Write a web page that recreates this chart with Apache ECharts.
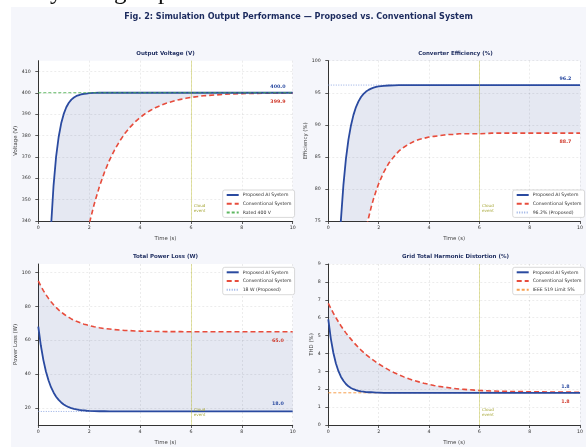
<!DOCTYPE html>
<html><head><meta charset="utf-8">
<script src="https://cdn.jsdelivr.net/npm/echarts@6/dist/echarts.min.js"></script>
<style>html,body{margin:0;padding:0;background:#fff;}#c{width:586px;height:447px;}</style>
</head><body><div id="c"></div>
<script>
// ---------------- DATA ----------------
const timeS = [0,0.1,0.2,0.3,0.4,0.5,0.6,0.7,0.8,0.9,1.0,1.1,1.2,1.3,1.4,1.5,1.6,1.7,1.8,1.9,2.0,
  2.2,2.4,2.6,2.8,3.0,3.2,3.4,3.6,3.8,4.0,4.2,4.4,4.6,4.8,5.0,5.2,5.4,5.6,5.8,6.0,
  6.5,7.0,7.5,8.0,8.5,9.0,9.5,10.0];

const voltageProposed = [0,124,209,268,309,337.2,356.7,370.1,379.3,385.7,390.1,393.2,395.3,396.8,397.8,398.5,398.9,399.3,399.5,399.6,399.8,
  399.9,400,400,400,400,400,400,400,400,400,400,400,400,400,400,400,400,400,400,400,
  400,400,400,400,400,400,400,400];
const voltageConventional = [75,101,125,147,167,186,203,219,233,246.5,259,270,280.4,290,298.8,307,314.3,321.2,327.5,333.3,338.6,
  348.0,356.0,362.8,368.5,373.3,377.4,380.9,383.8,386.3,388.4,390.2,391.7,393.0,394.0,395.0,395.7,396.4,396.9,397.4,397.8,
  398.6,399.0,399.4,399.6,399.7,399.8,399.9,399.9];

const efficiencyProposed = [0,25.1,43.7,57.4,67.6,75.1,80.6,84.7,87.7,89.9,91.55,92.77,93.66,94.33,94.82,95.18,95.45,95.64,95.79,95.90,95.98,
  96.08,96.13,96.16,96.18,96.19,96.2,96.2,96.2,96.2,96.2,96.2,96.2,96.2,96.2,96.2,96.2,96.2,96.2,96.2,96.2,
  96.2,96.2,96.2,96.2,96.2,96.2,96.2,96.2];
const efficiencyConventional = [0,0,9.3,18.9,27.3,34.7,41.2,46.9,51.9,56.3,60.2,63.7,66.7,69.3,71.7,73.7,75.5,77.1,78.5,79.7,80.8,
  82.6,84.0,85.0,85.9,86.5,87.0,87.4,87.7,87.9,88.1,88.2,88.3,88.4,88.5,88.5,88.6,88.6,88.6,88.6,88.6,
  88.7,88.7,88.7,88.7,88.7,88.7,88.7,88.7];

const lossProposed = [68,56.9,48.3,41.6,36.4,32.3,29.2,26.7,24.8,23.3,22.1,21.2,20.5,19.9,19.5,19.2,18.9,18.7,18.6,18.4,18.3,
  18.2,18.1,18.1,18.0,18.0,18.0,18.0,18.0,18.0,18.0,18.0,18.0,18.0,18.0,18.0,18.0,18.0,18.0,18.0,18.0,
  18.0,18.0,18.0,18.0,18.0,18.0,18.0,18.0];
const lossConventional = [95,92.0,89.3,86.9,84.7,82.7,81.0,79.4,77.9,76.6,75.5,74.4,73.5,72.6,71.9,71.2,70.6,70.0,69.5,69.1,68.7,
  68.0,67.4,66.9,66.6,66.3,66.0,65.8,65.7,65.5,65.4,65.3,65.3,65.2,65.2,65.1,65.1,65.1,65.1,65.0,65.0,
  65.0,65.0,65.0,65.0,65.0,65.0,65.0,65.0];

const thdProposed = [5.9,4.83,4.04,3.45,3.02,2.70,2.47,2.29,2.16,2.07,2.00,1.95,1.91,1.88,1.86,1.84,1.83,1.83,1.82,1.81,1.81,
  1.80,1.80,1.80,1.80,1.80,1.80,1.80,1.80,1.80,1.80,1.80,1.80,1.80,1.80,1.80,1.80,1.80,1.80,1.80,1.80,
  1.80,1.80,1.80,1.80,1.80,1.80,1.80,1.80];
const thdConventional = [6.8,6.52,6.25,6.00,5.77,5.55,5.34,5.15,4.97,4.80,4.63,4.48,4.33,4.19,4.06,3.94,3.82,3.71,3.61,3.51,3.42,
  3.24,3.08,2.94,2.81,2.69,2.58,2.49,2.41,2.33,2.27,2.21,2.16,2.12,2.08,2.04,2.01,1.99,1.97,1.95,1.93,
  1.90,1.88,1.87,1.86,1.85,1.84,1.84,1.83];

const xTicks = [0,2,4,6,8,10];
const voltageTicks = [340,350,360,370,380,390,400,410];
const efficiencyTicks = [75,80,85,90,95,100];
const lossTicks = [20,40,60,80,100];
const thdTicks = [0,1,2,3,4,5,6,7,8,9];

const figureTitle = 'Fig. 2: Simulation Output Performance — Proposed vs. Conventional System';
const panelTitles = ['Output Voltage (V)','Converter Efficiency (%)','Total Power Loss (W)','Grid Total Harmonic Distortion (%)'];
const yAxisNames = ['Voltage (V)','Efficiency (%)','Power Loss (W)','THD (%)'];
const xAxisName = 'Time (s)';
const proposedName = 'Proposed AI System';
const conventionalName = 'Conventional System';
const referenceNames = ['Rated 400 V','96.2% (Proposed)','18 W (Proposed)','IEEE 519 Limit 5%'];
const referenceValues = [400,96.2,18,1.8];
const cloudEventTime = 6;
const cloudEventText = 'Cloud\nevent';
// fragments of the page caption line cut off above the figure (only descenders visible)
const captionFragments = ['y','g','p'];

// ---------------- STYLE / LAYOUT ----------------
const FONT = 'DejaVu Sans';
const NAVY = '#1c2b5e';
const BLUE = '#2a4aa0';
const RED = '#e74c3c';
const captionX = [50, 114, 158];
const panels = [
  {grid:{left:38.3,top:60.7,width:254.4,height:160.3}, yMin:340, yMax:415, ticks:voltageTicks,
   prop:voltageProposed, conv:voltageConventional,
   ref:{color:'rgba(76,175,80,0.9)', type:[3,2], width:1, z:6},
   legend:{left:222.7, top:190}, yNameGap:18.9, xNameGap:15.3, titleY:53.3, offP:-6.5, offC:8.7},
  {grid:{left:328.3,top:60.7,width:254.4,height:160.3}, yMin:75, yMax:100, ticks:efficiencyTicks,
   prop:efficiencyProposed, conv:efficiencyConventional,
   ref:{color:'rgba(120,150,220,0.8)', type:[1,1.5], width:1, z:2},
   legend:{left:512.7, top:190}, yNameGap:17.3, xNameGap:15.3, titleY:53.3, offP:-6.8, offC:8.3},
  {grid:{left:38.3,top:264,width:254.4,height:161}, yMin:10, yMax:105, ticks:lossTicks,
   prop:lossProposed, conv:lossConventional,
   ref:{color:'rgba(120,150,220,0.8)', type:[1,1.5], width:1, z:2},
   legend:{left:222.7, top:267.3}, yNameGap:17.6, xNameGap:14.6, titleY:256.7, offP:-7.9, offC:8.7},
  {grid:{left:328.3,top:264,width:254.4,height:161}, yMin:0, yMax:9, ticks:thdTicks,
   prop:thdProposed, conv:thdConventional,
   ref:{color:'rgba(245,150,60,0.9)', type:[3,2], width:1, z:2},
   legend:{left:512.7, top:267.3}, yNameGap:10.6, xNameGap:14.6, titleY:256.7, offP:-6.1, offC:9.9}
];

const pair = ys => timeS.map((t,k)=>[t, ys[k]]);
const gridLine = {show:true, lineStyle:{color:'rgba(0,0,0,0.11)', type:[2,2], width:0.7}};
const axisLineStyle = {show:true, onZero:false, lineStyle:{color:'#333', width:1}};

const grids = [], xAxes = [], yAxes = [], series = [], legends = [];
const graphics = [
  {type:'rect', shape:{x:11,y:7,width:575,height:440}, style:{fill:'#f5f6fb'}, z:-10, silent:true},
  {type:'text', x:298.5, y:16.7, style:{text:figureTitle, fill:NAVY, font:'bold 8.1px "'+FONT+'"', textAlign:'center', textVerticalAlign:'middle'}}
];
captionFragments.forEach((ch,k)=>{
  graphics.push({type:'text', x:captionX[k], y:-8, silent:true,
    style:{text:ch, fill:'#111', font:'25px "Liberation Serif"', textAlign:'left', textVerticalAlign:'middle'}});
});

panels.forEach((p,i)=>{
  grids.push(Object.assign({show:true, backgroundColor:'#fff', borderWidth:0}, p.grid));
  xAxes.push({type:'value', gridIndex:i, min:0, max:10, interval:2,
    name:xAxisName, nameLocation:'middle', nameGap:p.xNameGap,
    nameTextStyle:{fontFamily:FONT, fontSize:5.4, color:'#444'},
    axisLine:axisLineStyle, axisTick:{show:true, length:3, lineStyle:{color:'#333', width:0.8}},
    axisLabel:{fontFamily:FONT, fontSize:4.7, color:'#333', margin:4},
    splitLine:gridLine});
  yAxes.push({type:'value', gridIndex:i, min:p.yMin, max:p.yMax,
    name:yAxisNames[i], nameLocation:'middle', nameGap:p.yNameGap,
    nameTextStyle:{fontFamily:FONT, fontSize:5.4, color:'#444'},
    axisLine:axisLineStyle,
    axisTick:{show:true, length:3, lineStyle:{color:'#333', width:0.8}, customValues:p.ticks},
    axisLabel:{fontFamily:FONT, fontSize:4.7, color:'#333', margin:7.5, customValues:p.ticks},
    splitLine:gridLine});
  graphics.push({type:'text', x:p.grid.left+p.grid.width/2, y:p.titleY,
    style:{text:panelTitles[i], fill:NAVY, font:'bold 5.5px "'+FONT+'"', textAlign:'center', textVerticalAlign:'middle'}});

  const clampY = v => Math.max(p.yMin, Math.min(p.yMax, v));
  // band between the two curves (fill_between)
  series.push({type:'custom', name:'_band'+i, xAxisIndex:i, yAxisIndex:i, coordinateSystem:'cartesian2d',
    data:[[0,p.yMin]], silent:true, z:1, clip:true,
    renderItem:(params, api)=>{
      const pts = [];
      for (let k=0;k<timeS.length;k++) pts.push(api.coord([timeS[k], clampY(Math.max(p.prop[k],p.conv[k]))]));
      for (let k=timeS.length-1;k>=0;k--) pts.push(api.coord([timeS[k], clampY(Math.min(p.prop[k],p.conv[k]))]));
      return {type:'polygon', shape:{points:pts}, style:{fill:'rgba(45,65,150,0.12)'}};
    }});
  // cloud event marker
  const cloudY = p.yMin + 0.08*(p.yMax - p.yMin);
  series.push({type:'line', name:'_cloud'+i, xAxisIndex:i, yAxisIndex:i, data:[[cloudEventTime, p.yMin]],
    symbol:'none', lineStyle:{opacity:0}, silent:true, z:1,
    markLine:{silent:true, symbol:['none','none'], label:{show:false},
      lineStyle:{color:'rgba(188,189,34,0.45)', type:'solid', width:0.9}, data:[{xAxis:cloudEventTime}]},
    markPoint:{silent:true, symbol:'circle', symbolSize:1, itemStyle:{color:'rgba(0,0,0,0)'},
      data:[{coord:[cloudEventTime+0.11, cloudY], label:{show:true, formatter:cloudEventText, position:'inside', align:'left', verticalAlign:'middle',
        fontFamily:FONT, fontSize:4.1, lineHeight:5, color:'#a8a83a'}}]}
  });
  series.push({type:'line', name:referenceNames[i], xAxisIndex:i, yAxisIndex:i,
    data:[[0,referenceValues[i]],[10,referenceValues[i]]], symbol:'none', silent:true,
    lineStyle:{color:p.ref.color, type:p.ref.type, width:p.ref.width}, itemStyle:{color:p.ref.color}, z:p.ref.z});
  const lastC = p.conv[p.conv.length-1], lastP = p.prop[p.prop.length-1];
  series.push({type:'line', name:conventionalName, xAxisIndex:i, yAxisIndex:i, data:pair(p.conv),
    symbol:'none', lineStyle:{color:RED, type:[5,3], width:1.6}, itemStyle:{color:RED}, z:3,
    markPoint:{silent:true, symbol:'circle', symbolSize:1, itemStyle:{color:'rgba(0,0,0,0)'},
      data:[{coord:[9.42,lastC], label:{show:true, formatter:lastC.toFixed(1), position:'inside', offset:[0,p.offC],
        fontFamily:FONT, fontSize:4.8, fontWeight:'bold', color:'#d03a2c'}}]}});
  series.push({type:'line', name:proposedName, xAxisIndex:i, yAxisIndex:i, data:pair(p.prop),
    symbol:'none', lineStyle:{color:BLUE, width:1.8}, itemStyle:{color:BLUE}, z:4,
    markPoint:{silent:true, symbol:'circle', symbolSize:1, itemStyle:{color:'rgba(0,0,0,0)'},
      data:[{coord:[9.42,lastP], label:{show:true, formatter:lastP.toFixed(1), position:'inside', offset:[0,p.offP],
        fontFamily:FONT, fontSize:4.8, fontWeight:'bold', color:BLUE}}]}});
  legends.push({orient:'vertical', left:p.legend.left, top:p.legend.top, selectedMode:false,
    data:[proposedName, conventionalName, referenceNames[i]],
    itemWidth:12, itemHeight:5, itemGap:3.7, padding:[2.5,3,2.5,3],
    itemStyle:{opacity:0, borderWidth:0},
    backgroundColor:'rgba(255,255,255,0.92)', borderColor:'#cfcfcf', borderWidth:0.8, borderRadius:2,
    textStyle:{fontFamily:FONT, fontSize:4.6, color:'#333', padding:[0,0,0,-1]}});
});

const chart = echarts.init(document.getElementById('c'), null, {renderer:'canvas'});
chart.setOption({
  animation:false,
  backgroundColor:'transparent',
  textStyle:{fontFamily:FONT},
  grid:grids, xAxis:xAxes, yAxis:yAxes, series:series, legend:legends,
  graphic:graphics
});
</script></body></html>
